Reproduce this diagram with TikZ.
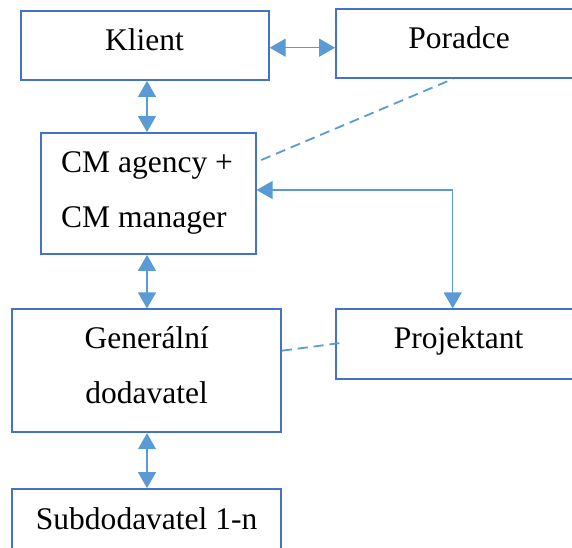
\documentclass[tikz,border=0pt]{standalone}
\usepackage{fontspec}
\setmainfont{Liberation Serif}
\usetikzlibrary{arrows.meta}
\definecolor{boxblue}{HTML}{4472C4}
\definecolor{linkblue}{HTML}{5B9BD5}
\begin{document}
\begin{tikzpicture}[x=1pt,y=-1pt,
  box/.style={draw=boxblue,line width=1.8pt,fill=white,rectangle,inner sep=0pt},
  txt/.style={inner sep=0pt,anchor=base,font=\fontsize{31.5}{55}\selectfont},
  link/.style={draw=linkblue,line width=1.2pt,
    {Triangle[width=18pt,length=16pt]}-{Triangle[width=18pt,length=16pt]}},
  loose/.style={draw=linkblue,line width=1.8pt,dash pattern=on 10pt off 6pt}]
\useasboundingbox (0,0) rectangle (572,547);
\clip (0,0) rectangle (572,547);

% boxes
\node[box,minimum width=247.7pt,minimum height=69.3pt] (klient) at (144.85,45.35) {};
\node[box,minimum width=245pt,minimum height=69.3pt] (poradce) at (458.5,43.35) {};
\node[box,minimum width=215pt,minimum height=121pt] (cm) at (148.2,193.5) {};
\node[box,minimum width=268.7pt,minimum height=123pt] (gen) at (146.65,370.8) {};
\node[box,minimum width=245pt,minimum height=69.7pt] (proj) at (458.5,344.15) {};
\node[box,minimum width=268.7pt,minimum height=69pt] (sub) at (146.65,523.5) {};

% labels
\node[txt] (tklient) at (144.5,50) {Klient};
\node[txt] (tporadce) at (459,48) {Poradce};
\node[txt,anchor=base west] (tcm1) at (61,172.3) {CM agency +};
\node[txt,anchor=base west] (tcm2) at (61,227.3) {CM manager};
\node[txt] (tgen1) at (146.65,348) {Generální};
\node[txt] (tgen2) at (146.65,403) {dodavatel};
\node[txt] (tproj) at (458.5,348.6) {Projektant};
\node[txt] (tsub) at (146.65,529) {Subdodavatel 1-n};

% connector guides
\coordinate (xa) at (147,0);
\coordinate (ya) at (0,47.7);
\coordinate (yb) at (0,190);
\coordinate (xb) at (452.7,0);
\coordinate (xc) at (453,0);
\coordinate (yd) at (0,162);
\coordinate (ye) at (0,350.7);
\coordinate (yf) at (0,343.7);

% solid two-way links
\draw[link] (klient.east |- ya) -- (poradce.west |- ya);
\draw[link] (klient.south -| xa) -- (cm.north -| xa);
\draw[link] (cm.south -| xa) -- (gen.north -| xa);
\draw[link] (gen.south -| xa) -- (sub.north -| xa);
\draw[link] (cm.east |- yb) -| (proj.north -| xb);

% dashed links
\draw[loose,shorten <=5pt] (cm.east |- yd) -- (poradce.south -| xc);
\draw[loose,shorten >=-5pt] (gen.east |- ye) -- (proj.west |- yf);
\end{tikzpicture}
\end{document}
